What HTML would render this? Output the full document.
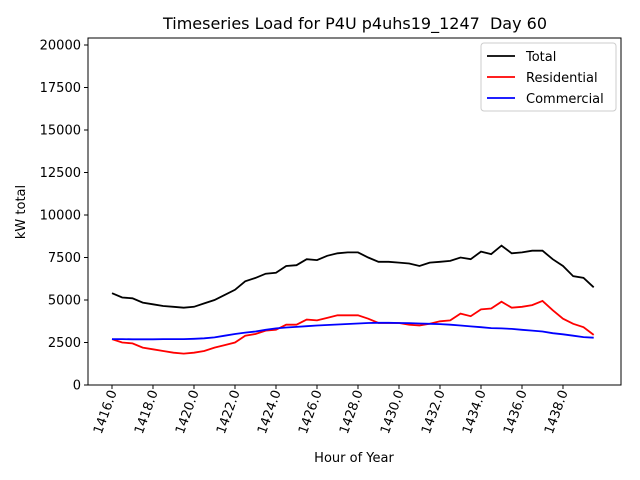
<!DOCTYPE html>
<html><head><meta charset="utf-8"><style>
body{margin:0;background:#fff;}
svg{display:block;font-family:"DejaVu Sans","Liberation Sans",sans-serif;}
</style></head><body>
<svg id="chart" width="640" height="480">
<text x="355" y="29" text-anchor="middle" font-size="16">Timeseries Load for P4U p4uhs19_1247 &#160;Day 60</text>
<g id="plot"></g>
<text x="354" y="462" text-anchor="middle" font-size="13">Hour of Year</text>
<text transform="translate(25,212) rotate(-90)" text-anchor="middle" font-size="13">kW total</text>
</svg>
<script>
const hourStart = 1416, hourStep = 0.5;
const totalLoad = [5400,5150,5100,4850,4750,4650,4600,4550,4600,4800,5000,5300,5600,6100,6300,6550,6600,7000,7050,7400,7350,7600,7750,7800,7800,7500,7250,7250,7200,7150,7000,7200,7250,7300,7500,7400,7850,7700,8200,7750,7800,7900,7900,7400,7000,6400,6300,5750];
const residentialLoad = [2700,2500,2450,2200,2100,2000,1900,1850,1900,2000,2200,2350,2500,2900,3000,3200,3250,3550,3550,3850,3800,3950,4100,4100,4100,3900,3650,3650,3650,3550,3500,3600,3750,3800,4200,4050,4450,4500,4900,4550,4600,4700,4950,4400,3900,3600,3400,2950];
const commercialLoad = [2700,2700,2690,2690,2690,2700,2700,2700,2720,2750,2800,2900,3000,3080,3150,3250,3330,3380,3420,3460,3500,3530,3560,3590,3620,3650,3660,3660,3650,3640,3620,3600,3580,3550,3500,3450,3400,3350,3330,3300,3250,3200,3150,3050,2980,2900,2820,2780];
const xTicks = [1416,1418,1420,1422,1424,1426,1428,1430,1432,1434,1436,1438];
const yTicks = [0,2500,5000,7500,10000,12500,15000,17500,20000];
const seriesNames = ["Total","Residential","Commercial"];
const seriesColors = ["#000000","#ff0000","#0000ff"];

const L=88,R=621,T=38,B=385, xMin=1414.83, xMax=1440.83, yMin=0, yMax=20412;
const xs=v=>L+(v-xMin)/(xMax-xMin)*(R-L);
const ys=v=>B-(v-yMin)/(yMax-yMin)*(B-T);
const NS="http://www.w3.org/2000/svg";
const g=document.getElementById('plot');
function mk(tag,attrs,parent){const e=document.createElementNS(NS,tag);for(const k in attrs)e.setAttribute(k,attrs[k]);(parent||g).appendChild(e);return e;}

const frame=mk('rect',{x:L,y:T,width:R-L,height:B-T,fill:'none',stroke:'#000','stroke-width':1});



xTicks.forEach(t=>{
  const x=xs(t);
  const tk=mk('line',{x1:x,x2:x,y1:B,y2:B+4,stroke:'#000'});
  
  
  const lb=mk('text',{transform:`translate(${x+5},${B+7}) rotate(-70)`,'text-anchor':'end','font-size':13});
  lb.textContent=t.toFixed(1);
  
  
});
yTicks.forEach(t=>{
  const y=ys(t);
  const tk=mk('line',{x1:L-4,x2:L,y1:y,y2:y,stroke:'#000'});
  
  
  const lb=mk('text',{x:L-7,y:y+4.5,'text-anchor':'end','font-size':13});
  lb.textContent=t;
  
  
});

[totalLoad,residentialLoad,commercialLoad].forEach((arr,i)=>{
  const pts=arr.map((v,j)=>xs(hourStart+j*hourStep).toFixed(1)+','+ys(v).toFixed(1)).join(' ');
  const pl=mk('polyline',{points:pts,fill:'none',stroke:seriesColors[i],'stroke-width':1.8});
  
  
});

const lg=mk('g',{});


mk('rect',{x:481,y:43,width:135,height:68,rx:3,fill:'#fff',stroke:'#ccc'},lg);
seriesNames.forEach((n,i)=>{
  const y=56+i*21;
  const ln=mk('line',{x1:487,x2:515,y1:y,y2:y,stroke:seriesColors[i],'stroke-width':1.8},lg);
  
  
  const tx=mk('text',{x:526,y:y+5,'font-size':13},lg);
  tx.textContent=n;
  
  
});
</script>
</body></html>
